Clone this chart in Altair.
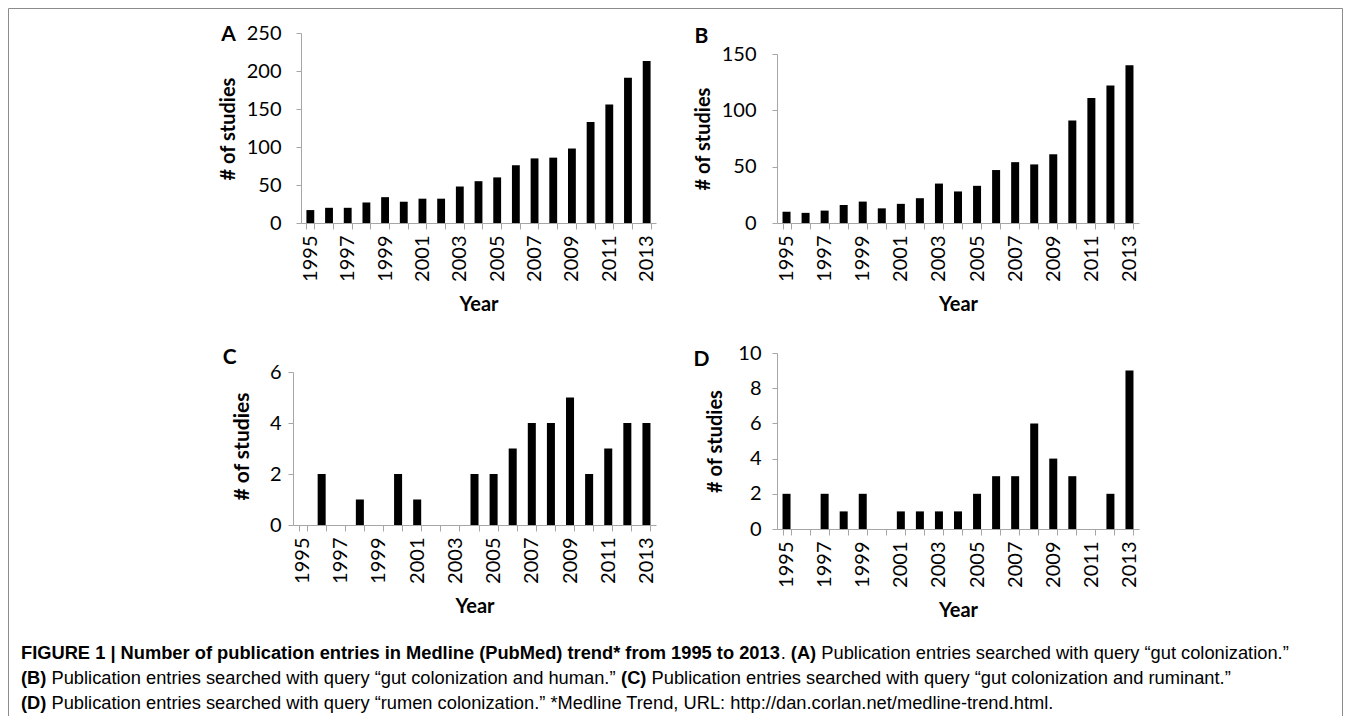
import altair as alt
import pandas as pd

# ---------------- data ----------------
years = [1995, 1996, 1997, 1998, 1999, 2000, 2001, 2002, 2003, 2004,
         2005, 2006, 2007, 2008, 2009, 2010, 2011, 2012, 2013]
gut_colonization = [17, 20, 20, 27, 34, 28, 32, 32, 48, 55, 60, 76, 85, 86, 98, 133, 156, 191, 213]
gut_colonization_human = [10, 9, 11, 16, 19, 13, 17, 22, 35, 28, 33, 47, 54, 52, 61, 91, 111, 122, 140]
gut_colonization_ruminant = [0, 2, 0, 1, 0, 2, 1, 0, 0, 2, 2, 3, 4, 4, 5, 2, 3, 4, 4]
rumen_colonization = [2, 0, 2, 1, 2, 0, 1, 1, 1, 1, 2, 3, 3, 6, 4, 3, 0, 2, 9]

panel_labels = ["A", "B", "C", "D"]
y_ticks_A = [0, 50, 100, 150, 200, 250]
y_ticks_B = [0, 50, 100, 150]
y_ticks_C = [0, 2, 4, 6]
y_ticks_D = [0, 2, 4, 6, 8, 10]

caption_lines = [
    [("FIGURE 1 | Number of publication entries in Medline (PubMed) trend* from 1995 to 2013", True),
     (". ", False), ("(A)", True),
     (" Publication entries searched with query \u201cgut colonization.\u201d", False)],
    [("(B)", True),
     (" Publication entries searched with query \u201cgut colonization and human.\u201d ", False),
     ("(C)", True),
     (" Publication entries searched with query \u201cgut colonization and ruminant.\u201d", False)],
    [("(D)", True),
     (" Publication entries searched with query \u201crumen colonization.\u201d *Medline Trend, URL: http://dan.corlan.net/medline-trend.html.", False)],
]

# ---------------- style helpers ----------------
GRAY = "#a6a6a6"
FONT = "Lato"

# Arial / Liberation Sans advance widths (1/1000 em) for laying out caption runs
_reg = {' ': 278, '.': 278, ',': 278, ':': 278, '/': 278, '-': 333, '*': 389, '|': 260,
        '(': 333, ')': 333, '\u201c': 333, '\u201d': 333}
_bold = {' ': 278, '.': 278, ',': 278, ':': 333, '/': 278, '-': 333, '*': 389, '|': 280,
         '(': 333, ')': 333, '\u201c': 500, '\u201d': 500}
for d in "0123456789":
    _reg[d] = 556
    _bold[d] = 556
_up_r = dict(zip("ABCDEFGHIJKLMNOPQRSTUVWXYZ",
                 [667, 667, 722, 722, 667, 611, 778, 722, 278, 500, 667, 556, 833, 722, 778, 667, 778, 722, 667, 611, 722, 667, 944, 667, 667, 611]))
_up_b = dict(zip("ABCDEFGHIJKLMNOPQRSTUVWXYZ",
                 [722, 722, 722, 722, 667, 611, 778, 722, 278, 556, 722, 611, 833, 722, 778, 667, 778, 722, 667, 611, 722, 667, 944, 667, 667, 611]))
_lo_r = dict(zip("abcdefghijklmnopqrstuvwxyz",
                 [556, 556, 500, 556, 556, 278, 556, 556, 222, 222, 500, 222, 833, 556, 556, 556, 556, 333, 500, 278, 556, 500, 722, 500, 500, 500]))
_lo_b = dict(zip("abcdefghijklmnopqrstuvwxyz",
                 [556, 611, 556, 611, 556, 333, 611, 611, 278, 278, 556, 278, 889, 611, 611, 611, 611, 389, 556, 333, 611, 556, 778, 556, 556, 500]))
_reg.update(_up_r); _reg.update(_lo_r)
_bold.update(_up_b); _bold.update(_lo_b)


def text_width(s, bold, size):
    t = _bold if bold else _reg
    return sum(t.get(c, 556) for c in s) * size / 1000.0


def panel(vals, ticks, ymax, width, height, xrange, yrange, label, label_xy,
          ypad, ytitle_xy, ytitle_size, yoffset=0):
    df = pd.DataFrame({"year": years, "n": vals})
    xscale = dict(paddingInner=0.58, paddingOuter=0.29)
    if xrange is not None:
        xscale["range"] = xrange
    yscale = dict(domain=[0, ymax], nice=False, zero=True)
    if yrange is not None:
        yscale["range"] = yrange
    x0 = xrange[0] if xrange is not None else 0
    xaxis = alt.Axis(
        title="Year", titleFont=FONT, titleFontSize=20, titleFontWeight="bold",
        titleColor="black", titleBaseline="middle", titleAlign="center",
        titleX=(x0 + width) / 2, titleY=81,
        tickBand="extent", tickSize=6, tickColor=GRAY, domainColor=GRAY,
        labelAngle=270, labelPadding=6, labelFont=FONT, labelFontSize=20,
        labelColor="black", labelOverlap=False,
        labelExpr="datum.value % 2 == 1 ? datum.label : ''", grid=False)
    yaxis_kw = dict(
        title="# of studies", values=ticks, titleFont=FONT, titleFontSize=ytitle_size,
        titleFontWeight="bold", titleColor="black", titleAngle=270,
        titleBaseline="middle", titleAlign="center",
        titleX=ytitle_xy[0], titleY=ytitle_xy[1],
        tickSize=5, tickColor=GRAY, domainColor=GRAY, labelPadding=ypad,
        labelFont=FONT, labelFontSize=20, labelColor="black", grid=False)
    if yoffset:
        yaxis_kw["offset"] = yoffset
    bars = alt.Chart(df).mark_bar(color="black").encode(
        x=alt.X("year:O", scale=alt.Scale(**xscale), axis=xaxis),
        y=alt.Y("n:Q", scale=alt.Scale(**yscale), axis=alt.Axis(**yaxis_kw)),
    )
    lab = alt.Chart(pd.DataFrame({"lab": [label]})).mark_text(
        font=FONT, fontSize=21, fontWeight="bold", color="black",
        align="center", baseline="middle").encode(
        text="lab:N", x=alt.value(label_xy[0]), y=alt.value(label_xy[1]))
    return alt.layer(bars, lab).properties(width=width, height=height)


pA = panel(gut_colonization, y_ticks_A, 250, 363, 190, [8, 363], None,
           panel_labels[0], (-64.5, 2), 15, (-73, 95.5), 20, yoffset=-8)
pB = panel(gut_colonization_human, y_ticks_B, 150, 362, 190, None, [190, 21],
           panel_labels[1], (-75.5, 3.5), 16, (-73.5, 105.5), 20)
pC = panel(gut_colonization_ruminant, y_ticks_C, 6, 363, 172, None, [172, 19],
           panel_labels[2], (-63.3, 5.3), 7, (-50.5, 93), 21)
pD = panel(rumen_colonization, y_ticks_D, 10, 362, 176, None, None,
           panel_labels[3], (-75.5, 7), 11, (-61.3, 88), 20)

# ---------------- caption (page coords relative to caption cell origin) ----------------
CAP_ORIGIN_X = 293
CAP_ORIGIN_Y = 659
CAP_SIZE = 18.3
line_y = [654, 679, 704]
rows = []
for li, segs in enumerate(caption_lines):
    x = 21 - CAP_ORIGIN_X
    for s, b in segs:
        stripped = s.lstrip(" ")
        lead = len(s) - len(stripped)
        rows.append({"x": x + text_width(" " * lead, b, CAP_SIZE),
                     "y": line_y[li] - CAP_ORIGIN_Y,
                     "t": stripped.rstrip(" "), "b": "bold" if b else "normal"})
        x += text_width(s, b, CAP_SIZE)
cap_df = pd.DataFrame(rows)

cap_bold = alt.Chart(cap_df[cap_df.b == "bold"]).mark_text(
    font="Liberation Sans", fontSize=CAP_SIZE, fontWeight="bold", color="black",
    align="left", baseline="middle").encode(
    x=alt.X("x:Q", scale=None), y=alt.Y("y:Q", scale=None), text="t:N")
cap_norm = alt.Chart(cap_df[cap_df.b == "normal"]).mark_text(
    font="Liberation Sans", fontSize=CAP_SIZE, fontWeight="normal", color="black",
    align="left", baseline="middle").encode(
    x=alt.X("x:Q", scale=None), y=alt.Y("y:Q", scale=None), text="t:N")

fl, fr, ft, fb = 8.5 - CAP_ORIGIN_X, 1342.5 - CAP_ORIGIN_X, 8.5 - CAP_ORIGIN_Y, 716 - CAP_ORIGIN_Y
frame_df = pd.DataFrame({"x": [fl, fl, fr], "x2": [fr, fl, fr],
                         "y": [ft, ft, ft], "y2": [ft, fb, fb]})
frame = alt.Chart(frame_df).mark_rule(color="#8c8c8c", strokeWidth=1).encode(
    x=alt.X("x:Q", scale=None), x2="x2:Q",
    y=alt.Y("y:Q", scale=None), y2="y2:Q")

caption = alt.layer(frame, cap_bold, cap_norm).properties(width=1, height=1)

chart = alt.concat(pA, pB, pC, pD, caption, columns=2,
                   spacing={"row": 130, "column": 121}, bounds="flush").properties(
    padding=0, background="white"
).configure_view(stroke=None)

chart.save("out.html", embed_options={"renderer": "svg", "actions": False})
